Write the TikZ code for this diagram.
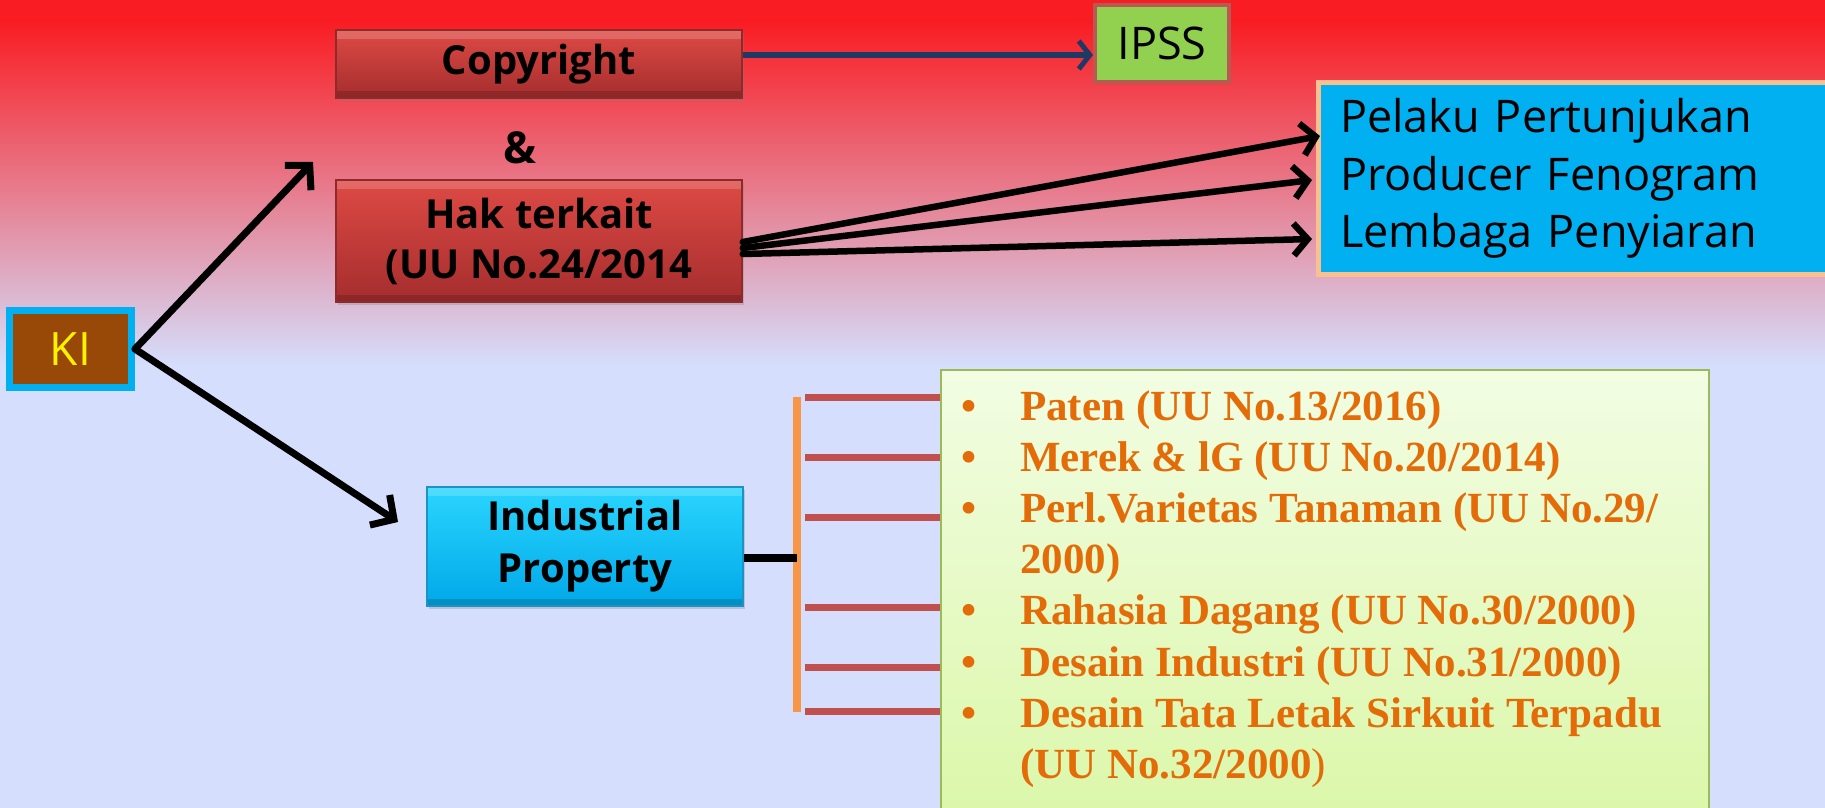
\documentclass[tikz,border=0pt]{standalone}
\usepackage{fontspec}
\setmainfont{Liberation Serif}
\setsansfont{Open Sans}
\usepackage{tikz}
\usetikzlibrary{arrows.meta,shadows}

\definecolor{bgred}{HTML}{F91C22}
\definecolor{bglav}{HTML}{D5DEFC}
\definecolor{boxredtop}{HTML}{DE4A45}
\definecolor{boxredbot}{HTML}{A42D2D}
\definecolor{redline}{HTML}{8E2A2A}
\definecolor{ipssgreen}{HTML}{92D050}
\definecolor{ipssline}{HTML}{B65A52}
\definecolor{skyblue}{HTML}{00B0F0}
\definecolor{paleorange}{HTML}{FAC090}
\definecolor{kibrown}{HTML}{984807}
\definecolor{iptop}{HTML}{2AD6FF}
\definecolor{ipbot}{HTML}{00A8E8}
\definecolor{ipline}{HTML}{1C93C4}
\definecolor{lawtop}{HTML}{F2FDE3}
\definecolor{lawbot}{HTML}{DAF7A6}
\definecolor{lawline}{HTML}{9BBB59}
\definecolor{barorange}{HTML}{F79646}
\definecolor{tickred}{HTML}{C0504D}
\definecolor{navy}{HTML}{1F3864}
\definecolor{lawtext}{HTML}{E36C09}

\tikzset{
  bevel/.style={path picture={
    \fill[white, opacity=.18] (path picture bounding box.north west)
      rectangle ([yshift=-9pt]path picture bounding box.north east);
    \fill[black, opacity=.15] ([yshift=7pt]path picture bounding box.south west)
      rectangle (path picture bounding box.south east);}},
  redbox/.style={draw=redline, line width=1.5pt, top color=boxredtop, bottom color=boxredbot,
    minimum width=406pt, align=center, font=\sffamily\bfseries\fontsize{40}{50}\selectfont,
    bevel, drop shadow={shadow xshift=2pt, shadow yshift=-3pt, opacity=.3}},
  ipbox/.style={draw=ipline, line width=1.5pt, top color=iptop, bottom color=ipbot,
    minimum width=316pt, minimum height=119pt, align=center,
    font=\sffamily\bfseries\fontsize{40}{52}\selectfont,
    bevel, drop shadow={shadow xshift=2pt, shadow yshift=-3pt, opacity=.3}},
  kibox/.style={draw=skyblue, line width=7pt, fill=kibrown, minimum width=122pt,
    minimum height=77pt, text=yellow, font=\sffamily\fontsize{46}{50}\selectfont},
  ipssbox/.style={draw=ipssline, line width=4pt, fill=ipssgreen, minimum width=134pt,
    minimum height=77pt, font=\sffamily\fontsize{45}{50}\selectfont},
  listbox/.style={draw=paleorange, line width=5pt, fill=skyblue, minimum height=192pt,
    text width=500pt, inner xsep=22pt, align=left, font=\sffamily\fontsize{45}{57.5}\selectfont},
  lawbox/.style={draw=lawline, line width=2pt, top color=lawtop, bottom color=lawbot,
    minimum width=768pt, minimum height=470pt},
  lawitems/.style={inner sep=0pt, text=lawtext, font=\bfseries\fontsize{43}{51.2}\selectfont},
  bigarrow/.style={line width=7pt, line cap=round, -{Straight Barb[length=17pt,width=36pt,line width=7pt]}},
  relarrow/.style={line width=6.5pt, line cap=round, -{Straight Barb[length=14pt,width=32pt,line width=6.5pt]}},
  navyarrow/.style={navy, line width=5.5pt, -{Straight Barb[length=11pt,width=28pt,line width=5pt]}},
  tick/.style={tickred, line width=7pt},
}

\begin{document}
\begin{tikzpicture}[x=1pt,y=-1pt]
\useasboundingbox (0,0) rectangle (1825,808);
\clip (0,0) rectangle (1825,808);

% background
\fill[bgred] (0,0) rectangle (1825,20);
\shade[top color=bgred, bottom color=bglav] (0,20) rectangle (1825,365);
\fill[bglav] (0,365) rectangle (1825,808);

\node[kibox] (ki) at (70.5,349) {KI};

\node[redbox, minimum height=68pt] (cr) at (539,64) {Copyright};
\node[font=\sffamily\bfseries\fontsize{44}{50}\selectfont] (amp) at (520,148) {\&};
\node[redbox, minimum height=122pt] (hak) at (539,241) {Hak terkait\\(UU No.24/2014};

\node[ipssbox] (ipss) at (1162,43.5) {IPSS};
\node[listbox, anchor=west] (pel) at (1315.5,178.5) {Pelaku Pertunjukan\\Producer Fenogram\\Lembaga Penyiaran};

\node[ipbox] (ip) at (585,546.5) {Industrial\\Property};

\node[lawbox, anchor=north west] (law) at (940,369) {};
\node[lawitems, anchor=base west] (items) at (961,420) {\begin{tabular}[t]{@{}p{59pt}@{}l@{}}
\textbullet & Paten (UU No.13/2016)\\
\textbullet & Merek \& lG (UU No.20/2014)\\
\textbullet & Perl.Varietas Tanaman (UU No.29/\\
 & 2000)\\
\textbullet & Rahasia Dagang (UU No.30/2000)\\
\textbullet & Desain Industri (UU No.31/2000)\\
\textbullet & Desain Tata Letak Sirkuit Terpadu\\
 & (UU No.32/2000{\mdseries )}\\
\end{tabular}};

% arrows from KI
\coordinate (kiup) at (313,162);
\coordinate (kidown) at (398,522);
\draw[bigarrow] (ki.east) -- (kiup);
\draw[bigarrow] (ki.east) -- (kidown);

\draw[navyarrow] ([yshift=9pt]cr.east) -- ([yshift=9pt]cr.east -| ipss.west);

% related rights
\coordinate (pel1) at (1320,136);
\coordinate (pel2) at (1312,180);
\coordinate (pel3) at (1312,239);
\draw[relarrow] ([yshift=-1pt]hak.east) -- (pel1);
\draw[relarrow] ([yshift=-7pt]hak.east) -- (pel2);
\draw[relarrow] ([yshift=-13pt]hak.east) -- (pel3);

% industrial property bar
\coordinate (bt) at (797,397);
\coordinate (bb) at (797,712);
\draw[barorange, line width=8pt] (bt) -- (bb);
\draw[line width=8pt] (ip.east |- 0,558) -- (bt |- 0,558);
\foreach \y in {397,457,517,607,667,711}{
  \coordinate (t\y) at (805,\y);
  \draw[tick] (t\y) -- (t\y -| law.west);
}

\end{tikzpicture}
\end{document}
